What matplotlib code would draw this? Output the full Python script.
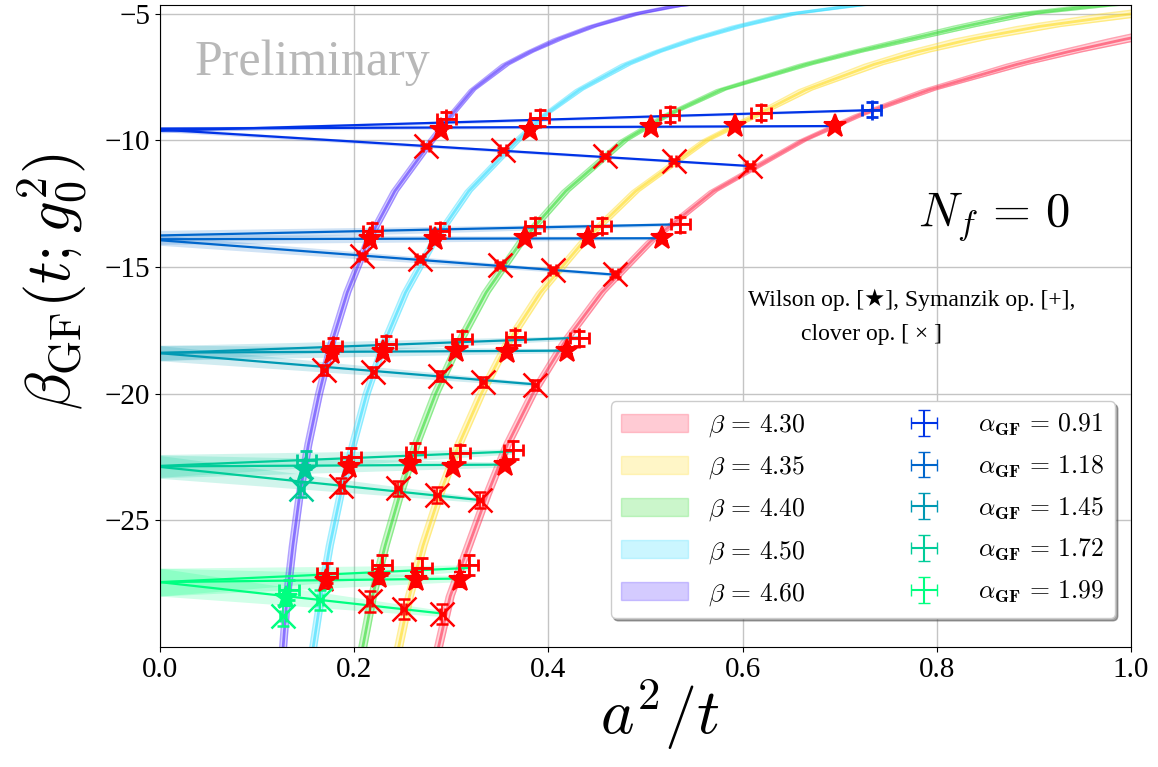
import numpy as np
import matplotlib.pyplot as plt
from matplotlib.patches import Patch

plt.rcParams['font.family'] = ['Liberation Serif', 'DejaVu Sans']
plt.rcParams['mathtext.fontset'] = 'cm'

# --- beta curves (y level -> x position, half width in x)
beta_labels = ['4.30', '4.35', '4.40', '4.50', '4.60']
beta_cols = ['#ff3355', '#ffdd22', '#33dd33', '#33ddff', '#5533ff']

low_y = [-30, -28, -26, -24, -22, -20, -18, -16, -14, -12, -10, -9, -8, -7]
y_b430 = low_y + [-6.5, -6, -5.5]
x_b430 = [0.287, 0.299, 0.318, 0.337, 0.358, 0.384, 0.416, 0.455, 0.505, 0.570, 0.662, 0.720, 0.792, 0.882,
          0.935, 0.994, 1.06]
y_b435 = low_y + [-6.5, -6, -5.5, -5, -4.6]
x_b435 = [0.246, 0.257, 0.271, 0.288, 0.308, 0.331, 0.358, 0.392, 0.436, 0.490, 0.562, 0.614, 0.665, 0.735,
          0.780, 0.835, 0.905, 1.0, 1.09]
y_b440 = low_y + [-6.5, -6, -5.5, -5, -4.7, -4.4]
x_b440 = [0.209, 0.219, 0.232, 0.247, 0.264, 0.284, 0.308, 0.336, 0.372, 0.418, 0.478, 0.522, 0.578, 0.665,
          0.716, 0.772, 0.828, 0.890, 0.960, 1.05]
y_b450 = low_y + [-6.5, -6, -5.5, -5, -4.7, -4.4]
x_b450 = [0.158, 0.166, 0.175, 0.186, 0.199, 0.213, 0.231, 0.253, 0.282, 0.318, 0.368, 0.396, 0.432, 0.480,
          0.512, 0.550, 0.595, 0.650, 0.710, 0.78]
y_b460 = low_y + [-6.5, -6, -5.5, -5, -4.7, -4.4]
x_b460 = [0.127, 0.131, 0.137, 0.144, 0.153, 0.164, 0.177, 0.193, 0.214, 0.242, 0.280, 0.300, 0.322, 0.356,
          0.381, 0.410, 0.445, 0.490, 0.530, 0.60]
dx_b430 = [0.004]*11 + [0.005, 0.007, 0.011, 0.014, 0.018, 0.024]
dx_b435 = [0.004]*11 + [0.005, 0.007, 0.010, 0.013, 0.017, 0.022, 0.03, 0.035]
dx_b440 = [0.004]*11 + [0.004, 0.005, 0.007, 0.008, 0.010, 0.012, 0.014, 0.017, 0.02]
dx_b450 = [0.0035]*11 + [0.003, 0.004, 0.005, 0.005, 0.006, 0.007, 0.008, 0.009, 0.01]
dx_b460 = [0.0035]*11 + [0.003, 0.003, 0.004, 0.004, 0.005, 0.005, 0.006, 0.007, 0.008]
curve_y = [y_b430, y_b435, y_b440, y_b450, y_b460]
curve_x = [x_b430, x_b435, x_b440, x_b450, x_b460]
curve_dx = [dx_b430, dx_b435, dx_b440, dx_b450, dx_b460]

# --- alpha groups: points (order beta 4.30 .. 4.60) for Wilson, Symanzik, clover
alpha_labels = ['0.91', '1.18', '1.45', '1.72', '1.99']

W_x = [[0.695, 0.592, 0.506, 0.381, 0.290], [0.517, 0.441, 0.376, 0.283, 0.216],
       [0.419, 0.357, 0.305, 0.230, 0.177], [0.355, 0.302, 0.258, 0.195, 0.149],
       [0.309, 0.264, 0.226, 0.171, 0.130]]
W_y = [[-9.44, -9.44, -9.48, -9.57, -9.57], [-13.87, -13.87, -13.87, -13.90, -13.90],
       [-18.33, -18.36, -18.30, -18.36, -18.40], [-22.82, -22.89, -22.76, -22.89, -23.02],
       [-27.35, -27.35, -27.22, -27.41, -28.07]]
S_x = [[0.733, 0.619, 0.525, 0.391, 0.295], [0.536, 0.455, 0.386, 0.288, 0.219],
       [0.432, 0.366, 0.311, 0.233, 0.178], [0.364, 0.309, 0.263, 0.197, 0.151],
       [0.318, 0.270, 0.229, 0.172, 0.133]]
S_y = [[-8.78, -8.91, -8.98, -9.11, -9.17], [-13.31, -13.37, -13.37, -13.57, -13.57],
       [-17.81, -17.77, -17.83, -18.03, -18.10], [-22.23, -22.36, -22.30, -22.49, -22.63],
       [-26.76, -26.89, -26.76, -27.09, -27.74]]
C_x = [[0.608, 0.529, 0.458, 0.353, 0.274], [0.469, 0.405, 0.350, 0.268, 0.208],
       [0.386, 0.333, 0.288, 0.220, 0.169], [0.330, 0.285, 0.245, 0.187, 0.145],
       [0.291, 0.251, 0.216, 0.165, 0.127]]
C_y = [[-11.01, -10.81, -10.62, -10.39, -10.22], [-15.28, -15.11, -14.91, -14.69, -14.55],
       [-19.67, -19.54, -19.31, -19.15, -19.08], [-24.20, -24.00, -23.74, -23.63, -23.77],
       [-28.70, -28.49, -28.20, -28.14, -28.76]]

# errors per alpha group
W_yerr = [0.05, 0.08, 0.12, 0.2, 0.3]
S_yerr = [0.3, 0.3, 0.3, 0.35, 0.4]
C_yerr = [0.08, 0.12, 0.2, 0.3, 0.4]
W_xerr = [0.003, 0.003, 0.003, 0.003, 0.003]
S_xerr = [0.01, 0.01, 0.01, 0.01, 0.01]
C_xerr = [0.003, 0.003, 0.003, 0.003, 0.003]

# points not used in fit (alpha idx, op, beta idx)
excluded = [(0, 'S', 0), (3, 'W', 4), (3, 'S', 4), (3, 'C', 4),
            (4, 'W', 4), (4, 'S', 4), (4, 'C', 4), (4, 'C', 3)]

# linear fits a^2/t -> 0 : value at 0, end point, band half widths
fit_y0 = {'W': [-9.53, -13.90, -18.38, -22.87, -27.44],
          'S': [-9.62, -13.75, -18.40, -22.85, -27.44],
          'C': [-9.57, -13.94, -18.40, -22.89, -27.44]}
fit_x1 = {'W': [0.695, 0.517, 0.419, 0.355, 0.309],
          'S': [0.733, 0.536, 0.432, 0.364, 0.318],
          'C': [0.608, 0.469, 0.386, 0.330, 0.291]}
fit_y1 = {'W': [-9.43, -13.86, -18.30, -22.80, -27.30],
          'S': [-8.80, -13.31, -17.79, -22.28, -26.88],
          'C': [-11.01, -15.30, -19.63, -24.20, -28.68]}
fit_e0 = [0.08, 0.2, 0.3, 0.45, 0.55]
fit_e1 = [0.04, 0.06, 0.08, 0.1, 0.12]

alpha_cols = plt.cm.winter([0.2, 0.4, 0.6, 0.8, 1.0])

fig = plt.figure(figsize=(11.58, 7.67), dpi=100)
ax = fig.add_axes([0.138, 0.1565, 0.8387, 0.837])

# beta bands
for i in range(5):
    y = np.array(curve_y[i])
    xc = np.array(curve_x[i])
    dx = np.array(curve_dx[i])
    c = beta_cols[i]
    ax.fill_betweenx(y, xc - dx, xc + dx, color=c, alpha=0.22, lw=0)
    ax.plot(xc, y, color=c, lw=2.0, alpha=0.6)
    ax.plot(xc - dx, y, color=c, lw=1.0, alpha=0.45)
    ax.plot(xc + dx, y, color=c, lw=1.0, alpha=0.45)

# fit lines
for a in range(5):
    c = alpha_cols[a]
    for op in ['W', 'S', 'C']:
        xs = [0, fit_x1[op][a]]
        ys = [fit_y0[op][a], fit_y1[op][a]]
        es = [fit_e0[a], fit_e1[a]]
        ax.fill_between(xs, np.array(ys) - es, np.array(ys) + es, color=c, alpha=0.18, lw=0)
        ax.plot(xs, ys, color=c, lw=1.6)

# data points
ops = {'W': (W_x, W_y, W_xerr, W_yerr, '*', 17, 1.5),
       'S': (S_x, S_y, S_xerr, S_yerr, '+', 14, 2.0),
       'C': (C_x, C_y, C_xerr, C_yerr, 'x', 17, 1.8)}
for a in range(5):
    for op, (px, py, pxe, pye, m, ms, mw) in ops.items():
        for b in range(5):
            col = alpha_cols[a] if (a, op, b) in excluded else 'red'
            ax.errorbar(px[a][b], py[a][b], xerr=pxe[a], yerr=pye[a], fmt=m, ms=ms,
                        mew=mw, color=col, ecolor=col, elinewidth=1.2, capsize=4, zorder=5)

ax.set_xlim(0, 1)
ax.set_ylim(-30, -4.65)
ax.set_yticks([-25, -20, -15, -10, -5])
ax.set_xticks([0, 0.2, 0.4, 0.6, 0.8, 1.0])
ax.grid(True, color='#c4c4c4', lw=1)
ax.set_axisbelow(True)
ax.tick_params(labelsize=21, top=False, right=False)

ax.set_xlabel(r'$a^2/t$', fontsize=46, labelpad=0)
ax.xaxis.set_label_coords(0.515, -0.048)
ax.set_ylabel(r'$\beta_{\rm GF}(t;g_0^2)$', fontsize=45)
ax.yaxis.set_label_coords(-0.072, 0.57)

ax.text(0.036, 0.91, 'Preliminary', transform=ax.transAxes, fontsize=36,
        color='#b8b8b8', ha='left', va='center')
ax.text(0.859, 0.67, r'$N_f\,=\,0$', transform=ax.transAxes, fontsize=35,
        ha='center', va='center')
ax.text(0.774, 0.541, 'Wilson op. [\u2605], Symanzik op. [+],',
        transform=ax.transAxes, fontsize=17, ha='center', va='center')
ax.text(0.733, 0.487, 'clover op. [ \u00d7 ]',
        transform=ax.transAxes, fontsize=17, ha='center', va='center')

# legend
handles = []
labels = []
for i in range(5):
    handles.append(Patch(facecolor=beta_cols[i], edgecolor=beta_cols[i], alpha=0.25))
    labels.append(r'$\beta\,=\,%s$' % beta_labels[i])
for a in range(5):
    h = ax.errorbar([np.nan], [np.nan], xerr=[1], yerr=[1], fmt='none',
                    ecolor=alpha_cols[a], capsize=4, elinewidth=1.5)
    handles.append(h)
    labels.append(r'$\alpha_{\mathbf{GF}}\,=\,%s$' % alpha_labels[a])
leg = ax.legend(handles, labels, ncol=2, loc='lower right', fontsize=18.5,
                bbox_to_anchor=(0.9835, 0.045), borderaxespad=0, fancybox=True, shadow=True,
                framealpha=1, columnspacing=3.3, handlelength=2.6, labelspacing=0.6)

fig.savefig('out.png', dpi=100)
